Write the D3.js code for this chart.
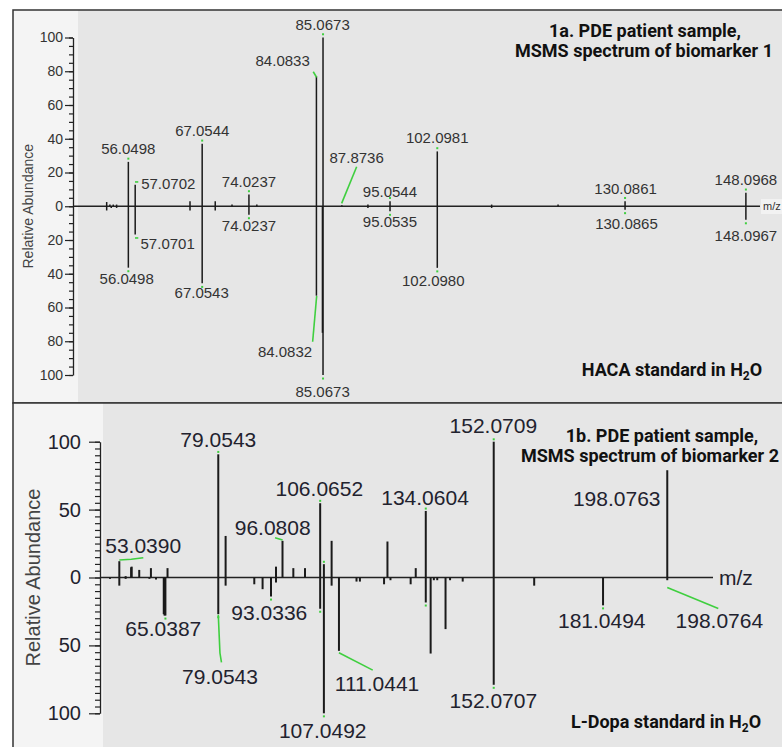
<!DOCTYPE html>
<html>
<head>
<meta charset="utf-8">
<script src="https://cdn.jsdelivr.net/npm/d3@7"></script>
<style>
  body { margin: 0; background: #fff; }
  svg { display: block; }
</style>
</head>
<body>
<svg width="782" height="747"></svg>
<script>
// ---- 1a: patient sample (up) vs HACA standard (down) ----
// [m/z, relative abundance]
const topSample = [[52.82,2.5],[53.3,1],[53.8,1],[54.3,1],[56.0498,26.3],[57.0702,12.8],[65.24,3],[67.0544,37],[69.0,3],[71.5,1],[74.0237,7],[75.2,1],[84.0833,77],[85.0673,100],[87.8736,0.6],[91.76,1],[95.0544,3],[102.0981,32.5],[110.2,1],[120.1,1],[130.0861,3],[148.0968,8]];
const topStandard = [[52.82,2.5],[53.5,1],[54.3,1],[56.0498,36.4],[57.0701,16.7],[65.24,2.5],[67.0543,45.7],[69.0,2.5],[74.0237,5],[84.0832,53],[84.98,75],[85.0673,100],[91.76,1],[95.0535,3],[102.0980,36.5],[110.2,1],[130.0865,2],[148.0967,8]];
// label text, anchored at [m/z, abundance] (negative = standard side)
const topLabels = [
  ["85.0673",85.01,107.4],["84.0833",79.05,86.3],["67.0544",67.07,44.8],["56.0498",56.04,33.9],
  ["57.0702",62.0,13.6],["74.0237",74.03,14.5],["87.8736",90.08,29.0],["95.0544",95.04,8.4],
  ["102.0981",102.09,40.6],["130.0861",130.17,10.6],["148.0968",148.1,15.6],
  ["74.0237",74.03,-11.7],["57.0701",61.91,-22.0],["56.0498",55.8,-42.7],["67.0543",66.98,-51.2],
  ["84.0832",79.4,-86.2],["85.0673",85.01,-110.1],["95.0535",95.04,-9.2],["102.0980",101.5,-44.3],
  ["130.0865",130.3,-10.5],["148.0967",148.1,-17.6]
];
const topLeaders = [
  [[83.61,79.7],[84.12,76.4]],
  [[90.08,23.4],[87.84,1.7]],
  [[83.52,-80.3],[84.12,-53.2]],
  [[57.04,14.4],[57.53,14.4]],
  [[57.04,-18.8],[57.53,-18.8]]
];
const topTips = [56.0498,67.0544,74.0237,85.0673,95.0544,102.0981,130.0861,148.0968,67.0543,95.0535,102.0980,130.0865,148.0967];

// ---- 1b: patient sample (up) vs L-Dopa standard (down) ----
const botSample = [[52.82,12],[54.5,1],[55.95,7.5],[56.1,8],[58.1,5.6],[61.2,6.9],[65.6,6.9],[79.0543,90.7],[81.0,30.6],[94.35,8],[96.0808,27],[98.95,6.9],[102.05,6.9],[106.0652,54.7],[107.0492,9.8],[109.1,27],[123.9,26.5],[131.4,6.9],[134.0604,49],[152.0709,100],[198.0763,79]];
const botStandard = [[50.35,1],[52.82,6],[54.5,1],[60.8,1],[62.55,1.5],[64.6,27],[64.8,28],[65.0387,28],[79.0543,27],[81.0,6],[88.6,5],[90.8,8.6],[93.0336,14],[94.35,3.7],[106.0652,23],[107.0492,100],[109.1,6],[111.0441,54],[115.7,3],[116.6,3],[123.0,5],[124.7,2],[130.05,5],[134.0604,18.4],[135.35,56],[136.2,2],[137.1,2],[139.3,38],[140.5,2],[143.85,3],[152.0707,79],[162.8,6],[181.0494,20.5],[198.0764,2]];
const botLabels = [
  ["53.0390",59.15,23.4],["79.0543",79.06,101.3],["106.0652",105.84,65.9],["96.0808",93.48,37.2],
  ["134.0604",133.86,59.1],["152.0709",151.97,112.3],["198.0763",184.68,58.3],
  ["65.0387",64.48,-37.2],["93.0336",92.58,-25.4],["79.0543",79.51,-72.5],["107.0492",106.74,-112.8],
  ["111.0441",121.14,-77.7],["181.0494",180.71,-31.8],["198.0764",211.88,-31.8],["152.0707",151.97,-90.7]
];
const botLeaders = [
  [[52.82,12.9],[56.0,13.4],[59.18,14.6]],
  [[94.1,29.3],[96.1,27.6]],
  [[79.0543,-27.4],[79.5,-55.6],[79.9,-62.5]],
  [[111.0441,-55.4],[120.0,-68.2]],
  [[198.0764,-7.3],[211.6,-22.8]]
];
const botTips = [79.0543,106.0652,134.0604,152.0709,65.0387,93.0336,107.0492,152.0707,181.0494];

const majorTop = [-100,-80,-60,-40,-20,0,20,40,60,80,100];
const majorBot = [-100,-50,0,50,100];
const minorTicks = d3.range(-100, 101, 5);

const svg = d3.select("svg");
const green = "#3fcf3f";

function drawPanel(p) {
  const g = svg.append("g");
  // frame + backgrounds
  g.append("rect").attr("x", 13).attr("y", p.top).attr("width", 780).attr("height", p.bottom - p.top)
    .attr("fill", "#e6e6e6");
  g.append("rect").attr("x", 13).attr("y", p.top).attr("width", p.strip - 13).attr("height", p.bottom - p.top)
    .attr("fill", "#f4f4f4");
  g.append("rect").attr("x", 13).attr("y", p.top).attr("width", 780).attr("height", p.bottom - p.top)
    .attr("fill", "none").attr("stroke", "#333").attr("stroke-width", 1.5);

  const x = p.x, y = p.y;

  // y axis: minor then major ticks
  g.append("g").attr("transform", `translate(${x.range()[0]},0)`)
    .call(d3.axisLeft(y).tickValues(minorTicks).tickSize(p.minor).tickFormat("").tickSizeOuter(0))
    .call(a => a.select(".domain").attr("stroke", "#222").attr("stroke-width", 1.3))
    .call(a => a.selectAll("line").attr("stroke", "#222").attr("stroke-width", 1.2));
  g.append("g").attr("transform", `translate(${x.range()[0]},0)`)
    .call(d3.axisLeft(y).tickValues(p.majors).tickSize(p.major).tickPadding(p.pad).tickSizeOuter(0)
      .tickFormat(d => Math.abs(d)))
    .call(a => a.select(".domain").remove())
    .call(a => a.selectAll("line").attr("stroke", "#222").attr("stroke-width", 1.2))
    .call(a => a.selectAll("text").attr("font-family", "Liberation Sans, Arial, sans-serif")
      .attr("font-size", p.tickFont).attr("fill", p.textColor));

  // x axis baseline
  g.append("line").attr("x1", x.range()[0]).attr("x2", x.range()[1])
    .attr("y1", y(0)).attr("y2", y(0)).attr("stroke", "#222").attr("stroke-width", p.axisW);

  // stick spectra
  g.selectAll(".up").data(p.sample).enter().append("line")
    .attr("x1", d => x(d[0])).attr("x2", d => x(d[0]))
    .attr("y1", y(0)).attr("y2", d => y(d[1]))
    .attr("stroke", "#1a1a1a").attr("stroke-width", p.stickW);
  g.selectAll(".down").data(p.standard).enter().append("line")
    .attr("x1", d => x(d[0])).attr("x2", d => x(d[0]))
    .attr("y1", y(0)).attr("y2", d => y(-d[1]))
    .attr("stroke", "#1a1a1a").attr("stroke-width", p.stickW);

  // green leader lines
  const line = d3.line().x(d => x(d[0])).y(d => y(d[1]));
  g.selectAll(".lead").data(p.leaders).enter().append("path")
    .attr("d", line).attr("fill", "none").attr("stroke", green).attr("stroke-width", 1.6);

  // small green dots at labelled tips
  const tips = p.sample.concat(p.standard.map(d => [d[0], -d[1]]))
    .filter(d => p.tipMz.some(m => Math.abs(m - d[0]) < 0.001));
  g.selectAll(".tip").data(tips).enter().append("rect")
    .attr("x", d => x(d[0]) - 1).attr("y", d => y(d[1] + (d[1] > 0 ? 2.5 : -1.5)))
    .attr("width", 2).attr("height", 2).attr("fill", green);

  // peak labels
  g.selectAll(".lbl").data(p.labels).enter().append("text")
    .attr("x", d => x(d[1])).attr("y", d => y(d[2])).attr("dy", "0.36em")
    .attr("text-anchor", "middle")
    .attr("font-family", "Liberation Sans, Arial, sans-serif")
    .attr("font-size", p.labelFont).attr("fill", p.textColor)
    .text(d => d[0]);

  // axis title
  g.append("text")
    .attr("transform", `translate(${p.yTitleX},${y(0)}) rotate(-90)`)
    .attr("text-anchor", "middle").attr("dy", "0.36em")
    .attr("font-family", "Liberation Sans, Arial, sans-serif")
    .attr("font-size", p.yTitleFont).attr("fill", "#444")
    .text("Relative Abundance");
  return g;
}

// panel 1a
const xTop = d3.scaleLinear().domain([47.8, 150.2]).range([73, 760]);
const yTop = d3.scaleLinear().domain([-100, 100]).range([375, 37.5]);
const g1 = drawPanel({
  top: 10, bottom: 403, strip: 78, x: xTop, y: yTop,
  sample: topSample, standard: topStandard, labels: topLabels, leaders: topLeaders, tipMz: topTips,
  majors: majorTop, major: 8, minor: 4, pad: 2, tickFont: 14, labelFont: 15,
  textColor: "#333", axisW: 1.3, stickW: 1.5, yTitleX: 28, yTitleFont: 14
});
g1.append("rect").attr("x", 761).attr("y", 199).attr("width", 30).attr("height", 15).attr("fill", "#f2f2f2");
g1.append("text").attr("x", 763).attr("y", yTop(0)).attr("dy", "0.36em")
  .attr("font-family", "Liberation Sans, Arial, sans-serif").attr("font-size", 11).attr("fill", "#333")
  .text("m/z");

// panel 1b
const xBot = d3.scaleLinear().domain([47.7, 210.2]).range([100, 713]);
const yBot = d3.scaleLinear().domain([-100, 100]).range([713.3, 441.7]);
const g2 = drawPanel({
  top: 403, bottom: 760, strip: 103, x: xBot, y: yBot,
  sample: botSample, standard: botStandard, labels: botLabels, leaders: botLeaders, tipMz: botTips,
  majors: majorBot, major: 11, minor: 5, pad: 8, tickFont: 20, labelFont: 21,
  textColor: "#22222e", axisW: 1.6, stickW: 2, yTitleX: 33, yTitleFont: 20
});
g2.append("text").attr("x", 719).attr("y", yBot(0)).attr("dy", "0.36em")
  .attr("font-family", "Liberation Sans, Arial, sans-serif").attr("font-size", 21).attr("fill", "#22222e")
  .text("m/z");

// titles
function title(lines, cx, y0) {
  const t = svg.append("text").attr("text-anchor", "middle")
    .attr("font-family", "Roboto, sans-serif").attr("font-weight", "bold")
    .attr("font-size", 18).attr("fill", "#111");
  lines.forEach((s, i) => t.append("tspan").attr("x", cx[i]).attr("y", y0 + i * 20.5).text(s));
}
function water(label, cx, y) {
  const t = svg.append("text").attr("x", cx).attr("y", y).attr("text-anchor", "middle")
    .attr("font-family", "Roboto, sans-serif").attr("font-weight", "bold")
    .attr("font-size", 18).attr("fill", "#111");
  t.append("tspan").text(label + " standard in H");
  t.append("tspan").attr("font-size", 12).attr("dy", 4).text("2");
  t.append("tspan").attr("dy", -4).text("O");
}
title(["1a. PDE patient sample,", "MSMS spectrum of biomarker 1"], [645, 644], 36.5);
title(["1b. PDE patient sample,", "MSMS spectrum of biomarker 2"], [662, 650], 441.5);
water("HACA", 672, 375.5);
water("L-Dopa", 666, 728);
</script>
</body>
</html>
